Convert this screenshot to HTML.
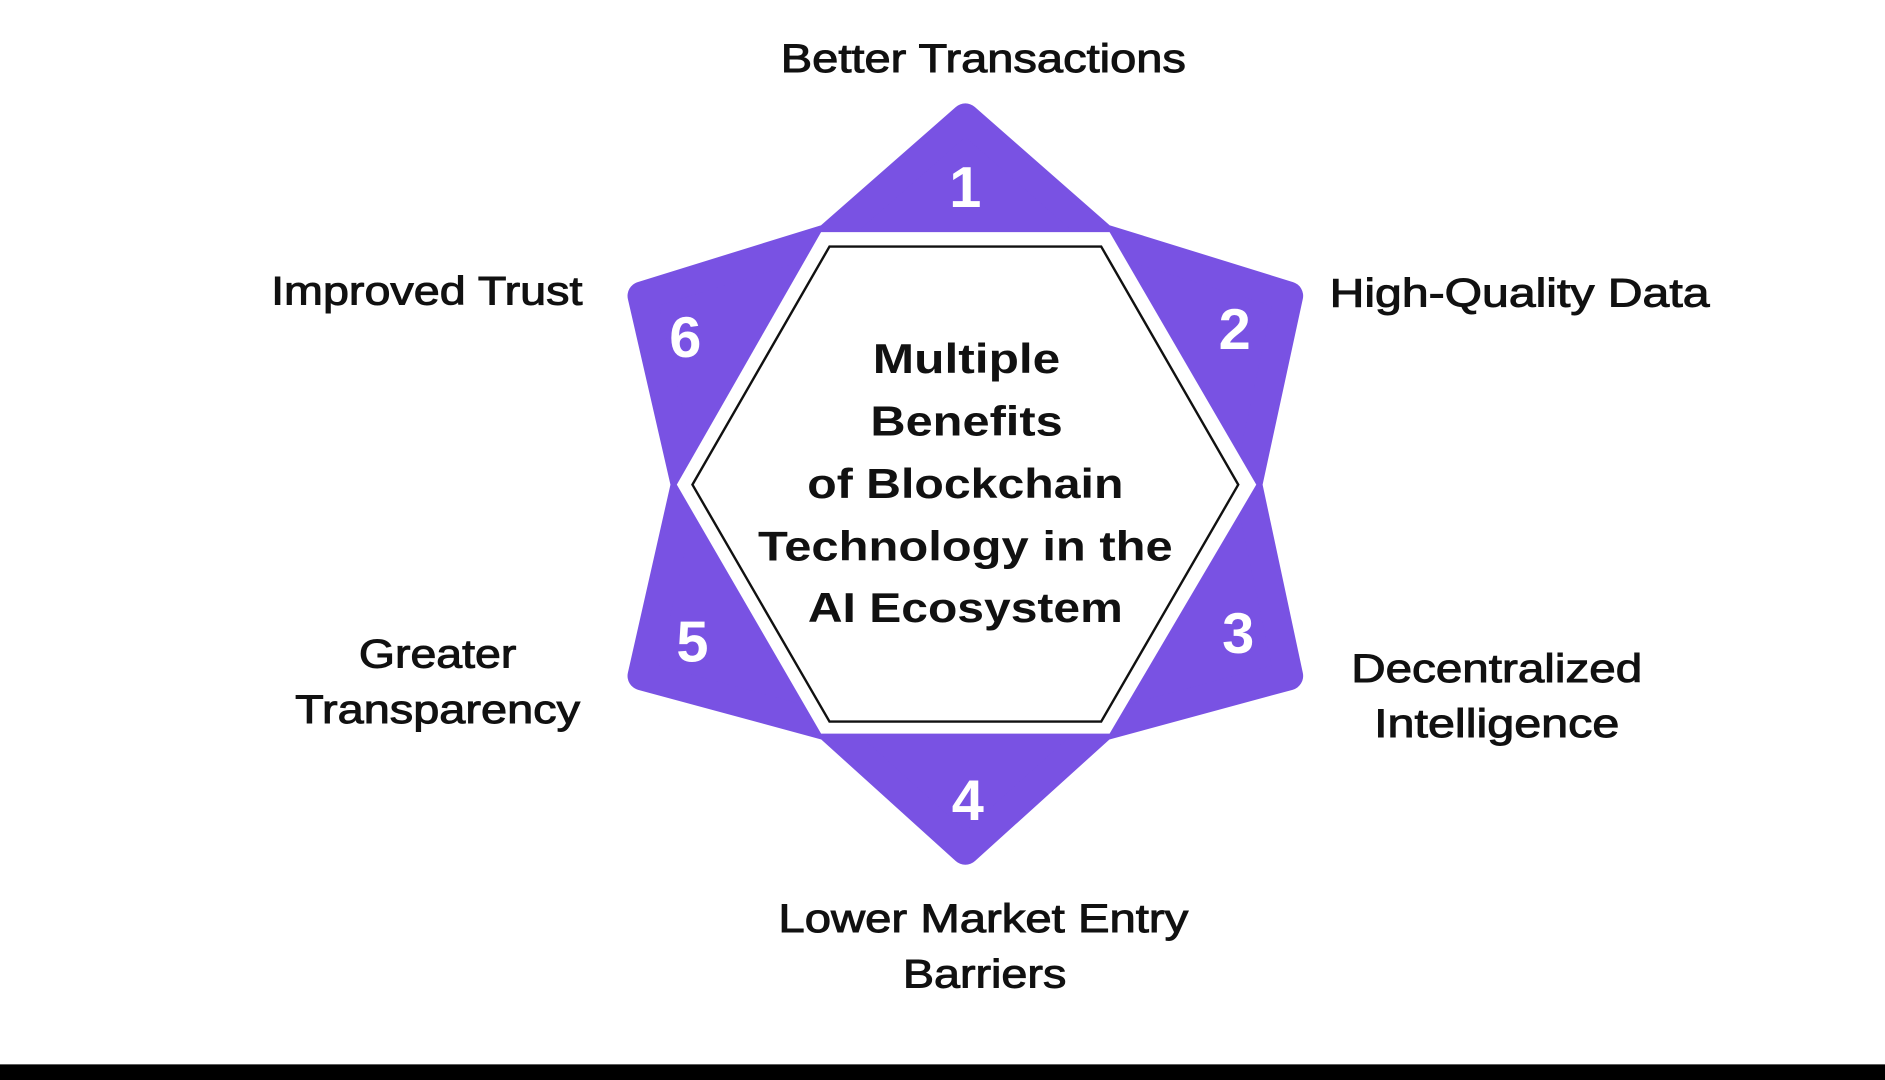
<!DOCTYPE html>
<html><head><meta charset="utf-8"><style>
html,body{margin:0;padding:0;background:#fff;}
svg{display:block}
text{font-family:"Liberation Sans",sans-serif;}
</style></head><body>
<svg width="1885" height="1080" viewBox="0 0 1568 898" preserveAspectRatio="none">
<rect width="1568" height="898" fill="#fff"/>
<polygon points="803,98 917,198 1072,246 1038,403 1072,562 917,604 803,707 689,604 534,562 570,403 534,246 689,198" fill="#7952E3" stroke="#7952E3" stroke-width="24" stroke-linejoin="round"/>
<polygon points="683,193 923,193 1045,403 923,610 683,610 563,403" fill="#fff"/>
<polygon points="690,205 916,205 1030,403 916,600 690,600 576,403" fill="#fff" stroke="#111" stroke-width="2"/>
<g fill="#fff" font-size="48" font-weight="bold" text-anchor="middle">
<text x="803" y="172">1</text><text x="1027" y="290">2</text><text x="1030" y="543">3</text>
<text x="805" y="682">4</text><text x="576" y="550">5</text><text x="570" y="297">6</text>
</g>
<g fill="#111" font-size="35" font-weight="bold" text-anchor="middle" lengthAdjust="spacingAndGlyphs">
<text x="804" y="310" textLength="156" lengthAdjust="spacingAndGlyphs">Multiple</text>
<text x="804" y="362" textLength="160" lengthAdjust="spacingAndGlyphs">Benefits</text>
<text x="803" y="414" textLength="263" lengthAdjust="spacingAndGlyphs">of Blockchain</text>
<text x="803" y="466" textLength="345" lengthAdjust="spacingAndGlyphs">Technology in the</text>
<text x="803" y="517" textLength="262" lengthAdjust="spacingAndGlyphs">AI Ecosystem</text>
</g>
<g fill="#111" font-size="33" text-anchor="middle" stroke="#111" stroke-width="0.8">
<text x="818" y="60" textLength="337" lengthAdjust="spacingAndGlyphs">Better Transactions</text>
<text x="355" y="253" textLength="259" lengthAdjust="spacingAndGlyphs">Improved Trust</text>
<text x="1264" y="255" textLength="316" lengthAdjust="spacingAndGlyphs">High-Quality Data</text>
<text x="364" y="555" textLength="131" lengthAdjust="spacingAndGlyphs">Greater</text>
<text x="364" y="601" textLength="237" lengthAdjust="spacingAndGlyphs">Transparency</text>
<text x="1245" y="567" textLength="242" lengthAdjust="spacingAndGlyphs">Decentralized</text>
<text x="1245" y="613" textLength="204" lengthAdjust="spacingAndGlyphs">Intelligence</text>
<text x="818" y="775" textLength="341" lengthAdjust="spacingAndGlyphs">Lower Market Entry</text>
<text x="819" y="821" textLength="136" lengthAdjust="spacingAndGlyphs">Barriers</text>
</g>
<rect x="0" y="885" width="1568" height="13" fill="#000"/>
</svg>
</body></html>
